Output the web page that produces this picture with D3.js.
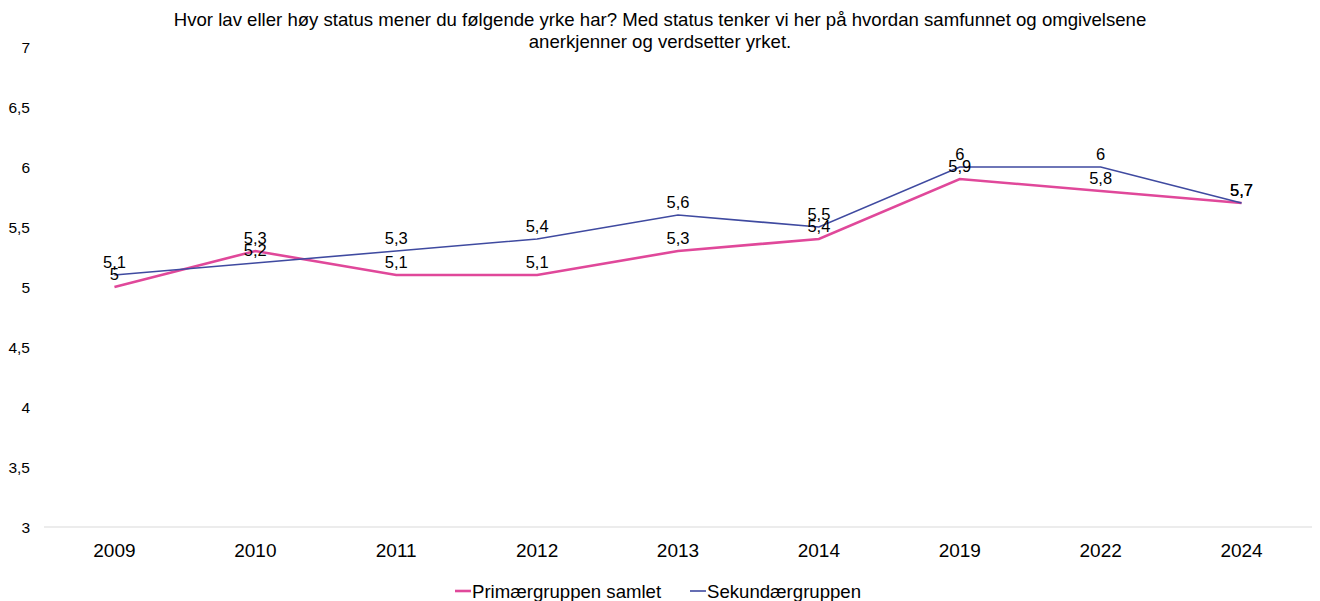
<!DOCTYPE html>
<html>
<head>
<meta charset="utf-8">
<script src="https://cdn.jsdelivr.net/npm/d3@7"></script>
<style>
  body { margin: 0; background: #fff; }
  text { font-family: "Liberation Sans", Arial, sans-serif; fill: #000; }
</style>
</head>
<body>
<svg id="chart" width="1320" height="601"></svg>
<script>
var years = ["2009", "2010", "2011", "2012", "2013", "2014", "2019", "2022", "2024"];
var primaer = [5, 5.3, 5.1, 5.1, 5.3, 5.4, 5.9, 5.8, 5.7];
var sekundaer = [5.1, 5.2, 5.3, 5.4, 5.6, 5.5, 6, 6, 5.7];
var yTicks = [3, 3.5, 4, 4.5, 5, 5.5, 6, 6.5, 7];
var titleLines = [
  "Hvor lav eller høy status mener du følgende yrke har? Med status tenker vi her på hvordan samfunnet og omgivelsene",
  "anerkjenner og verdsetter yrket."
];

var series = [
  { name: "Primærgruppen samlet", values: primaer, color: "#E0489A", width: 2.6 },
  { name: "Sekundærgruppen", values: sekundaer, color: "#3F4AA0", width: 1.6 }
];

var svg = d3.select("#chart");
var fmt = function(v) { return String(v).replace(".", ","); };

var x = d3.scaleBand().domain(years).range([44, 1312]);
var y = d3.scaleLinear().domain([3, 7]).range([527, 47]);

// title
svg.append("g").selectAll("text")
  .data(titleLines)
  .enter().append("text")
  .attr("x", 660)
  .attr("y", function(d, i) { return 26 + i * 22; })
  .attr("text-anchor", "middle")
  .style("font-size", "18.6px")
  .text(function(d) { return d; });

// baseline
svg.append("line")
  .attr("x1", 44).attr("x2", 1312)
  .attr("y1", y(3)).attr("y2", y(3))
  .attr("stroke", "#e6e6e6").attr("stroke-width", 1.3);

// y axis labels
svg.append("g").selectAll("text")
  .data(yTicks)
  .enter().append("text")
  .attr("x", 30)
  .attr("y", function(d) { return y(d) + 5.5; })
  .attr("text-anchor", "end")
  .style("font-size", "15.5px")
  .text(fmt);

// x axis labels
svg.append("g").selectAll("text")
  .data(years)
  .enter().append("text")
  .attr("x", function(d) { return x(d) + x.bandwidth() / 2; })
  .attr("y", 557)
  .attr("text-anchor", "middle")
  .style("font-size", "19px")
  .text(function(d) { return d; });

var line = d3.line()
  .x(function(d, i) { return x(years[i]) + x.bandwidth() / 2; })
  .y(function(d) { return y(d); });

series.forEach(function(s) {
  svg.append("path")
    .datum(s.values)
    .attr("fill", "none")
    .attr("stroke", s.color)
    .attr("stroke-width", s.width)
    .attr("d", line);
});

series.forEach(function(s) {
  svg.append("g").selectAll("text")
    .data(s.values)
    .enter().append("text")
    .attr("x", function(d, i) { return x(years[i]) + x.bandwidth() / 2; })
    .attr("y", function(d) { return y(d) - 7; })
    .attr("text-anchor", "middle")
    .style("font-size", "16.5px")
    .text(fmt);
});

// legend
var legendX = [455, 690];
var legend = svg.append("g").selectAll("g")
  .data(series)
  .enter().append("g")
  .attr("transform", function(d, i) { return "translate(" + legendX[i] + ",591)"; });
legend.append("line")
  .attr("x1", 0).attr("x2", 16)
  .attr("y1", 0).attr("y2", 0)
  .attr("stroke", function(d) { return d.color; })
  .attr("stroke-width", function(d) { return d.width; });
legend.append("text")
  .attr("x", 17)
  .attr("y", 7)
  .style("font-size", "18.6px")
  .text(function(d) { return d.name; });
</script>
</body>
</html>
